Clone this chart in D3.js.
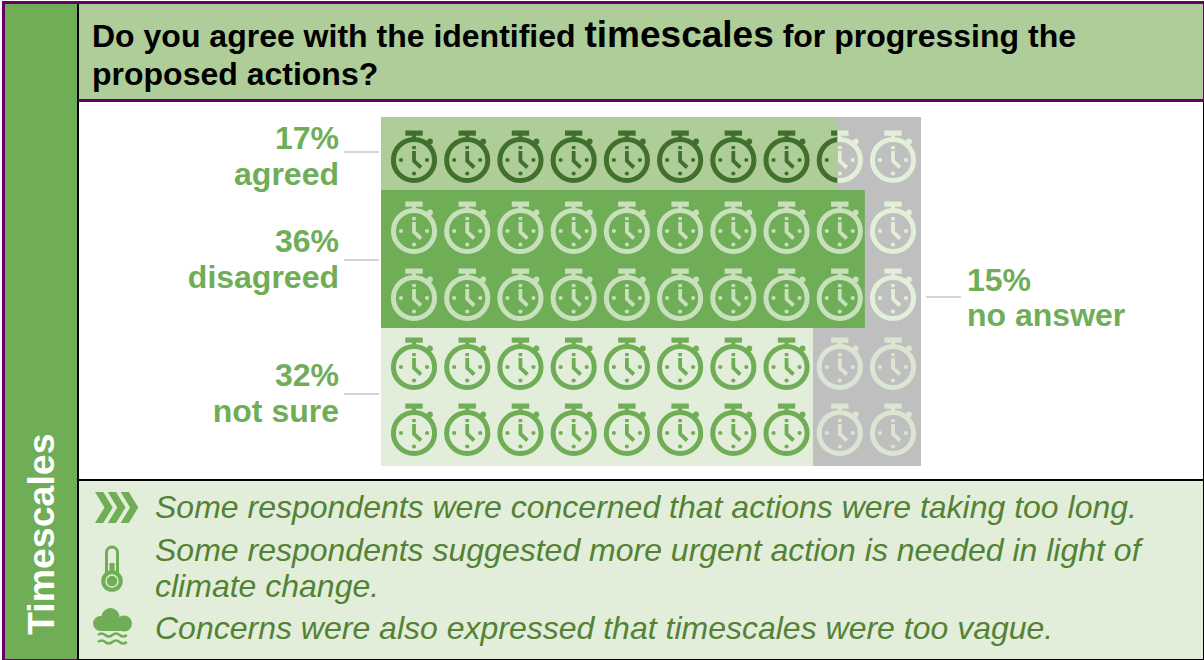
<!DOCTYPE html>
<html>
<head>
<meta charset="utf-8">
<script src="https://cdn.jsdelivr.net/npm/d3@7"></script>
<style>
  html, body { margin: 0; background: #fff; }
  svg { display: block; }
  text { font-family: "Liberation Sans", Arial, sans-serif; }
</style>
</head>
<body>
<div id="chart"></div>
<script>
const categories = ["agreed", "disagreed", "not sure"]
const percents = [17, 36, 32]
const rowsPerCategory = [1, 2, 2]
const filledIcons = [8.45, 8.96, 8]
const noAnswerLabel = "no answer"
const noAnswerPercent = 15
const iconColumns = d3.range(10)
const iconRows = d3.range(5)
const titleParts = ["Do you agree with the identified ", "timescales", " for progressing the"]
const titleLine2 = "proposed actions?"
const sideLabel = "Timescales"
const comments = [
  "Some respondents were concerned that actions were taking too long.",
  "Some respondents suggested more urgent action is needed in light of",
  "climate change.",
  "Concerns were also expressed that timescales were too vague."
]

const purple = "#660066", midGreen = "#70ad57", headGreen = "#aecd98"
const paleGreen = "#e2eeda", darkGreen = "#40702b", textGreen = "#548235"

const svg = d3.select("#chart").append("svg")
  .attr("width", 1204).attr("height", 660)

// panels
function box(x, y, w, h, fill) {
  return svg.append("rect").attr("x", x).attr("y", y).attr("width", w).attr("height", h).attr("fill", fill)
}
box(79, 4, 1125, 95, headGreen)
box(79, 481, 1125, 178, paleGreen)
box(5, 4, 72, 655, midGreen)
box(77, 4, 2, 656, "#000")
box(78, 99, 1126, 3, purple)
box(78, 479, 1126, 2, "#000")
box(2, 1, 1202, 3, purple)
box(2, 1, 3, 659, purple)
box(2, 659, 76, 1, purple)
box(78, 659, 1126, 1, "#000")
box(1203, 4, 1, 95, purple)
box(1203, 102, 1, 557, "#000")

// title
const title = svg.append("text").attr("x", 92).attr("y", 47)
  .attr("font-weight", "bold").attr("font-size", 32).attr("fill", "#000")
title.selectAll("tspan").data(titleParts).join("tspan")
  .attr("font-size", (d, i) => i == 1 ? 37 : 32)
  .style("white-space", "pre")
  .text(d => d)
svg.append("text").attr("x", 92).attr("y", 85)
  .attr("font-weight", "bold").attr("font-size", 32).attr("fill", "#000")
  .text(titleLine2)

svg.append("text")
  .attr("transform", "translate(53.5,635) rotate(-90)")
  .attr("font-weight", "bold").attr("font-size", 37.5).attr("fill", "#fff")
  .text(sideLabel)

// scales
const x = d3.scaleLinear().domain([0, 10]).range([381, 921])
const yEdge = d3.scaleLinear().domain([0, 1, 3, 5]).range([117, 190, 328, 466])
const iconX = d3.scalePoint().domain(iconColumns).range([414, 893])
const iconY = d3.scaleLinear().domain(iconRows).range([160, 231, 298, 367, 433])

// one stopwatch, centred on the dial
function stopwatch(g, color) {
  g.append("circle").attr("r", 20.6).attr("fill", "none").attr("stroke", color).attr("stroke-width", 5)
  g.append("rect").attr("x", -8.7).attr("y", -29.5).attr("width", 17.4).attr("height", 5.2).attr("fill", color)
  g.append("rect").attr("x", -2).attr("y", -25).attr("width", 4).attr("height", 4).attr("fill", color)
  g.append("path").attr("d", "M13,-16L16,-19.5").attr("stroke", color).attr("stroke-width", 3.2)
  g.append("circle").attr("cx", 16).attr("cy", -18.5).attr("r", 2.9).attr("fill", color)
  g.selectAll("circle.dot").data([[-13, 0], [13, 0], [0, 13.5]]).join("circle")
    .attr("class", "dot")
    .attr("cx", d => d[0]).attr("cy", d => d[1]).attr("r", 2.1).attr("fill", color)
  g.append("rect").attr("x", -1.8).attr("y", -14).attr("width", 3.6).attr("height", 3.2).attr("fill", color)
  g.append("path").attr("d", "M0,-9V1L7,7.5").attr("fill", "none").attr("stroke", color).attr("stroke-width", 3.8)
}

function drawIcons(parent, rows, color) {
  rows.forEach(r => {
    iconColumns.forEach(c => {
      stopwatch(parent.append("g").attr("transform", `translate(${iconX(c)},${iconY(r)})`), color)
    })
  })
}

// grey "no answer" band and the pale icons on top of it
svg.append("rect")
  .attr("x", x(0)).attr("width", x(10) - x(0))
  .attr("y", yEdge(0)).attr("height", yEdge(5) - yEdge(0))
  .attr("fill", "#bfbfbf")
drawIcons(svg.append("g"), [0, 1, 2], "#e2efd9")
drawIcons(svg.append("g"), [3, 4], "#dbe6d2")

// one coloured bar per answer, icons clipped to it
const barFills = [headGreen, midGreen, paleGreen]
const iconFills = [darkGreen, "#c9e0bc", midGreen]
const defs = svg.append("defs")
let rowStart = 0
categories.forEach((cat, i) => {
  const rows = d3.range(rowStart, rowStart + rowsPerCategory[i])
  const y0 = yEdge(rowStart), y1 = yEdge(rowStart + rowsPerCategory[i])
  const w = x(filledIcons[i]) - x(0)
  defs.append("clipPath").attr("id", "clip" + i).append("rect")
    .attr("x", x(0)).attr("y", y0).attr("width", w).attr("height", y1 - y0)
  svg.append("rect").attr("x", x(0)).attr("y", y0).attr("width", w).attr("height", y1 - y0)
    .attr("fill", barFills[i])
  drawIcons(svg.append("g").attr("clip-path", `url(#clip${i})`), rows, iconFills[i])
  rowStart += rowsPerCategory[i]
})

// labels
const labelStyle = s => s.attr("font-weight", "bold").attr("font-size", 32).attr("fill", midGreen)
const labelY = [[149, 185], [252, 288], [386, 422]]
const leaderY = [152, 260, 394]
categories.forEach((cat, i) => {
  svg.append("text").attr("x", 339).attr("y", labelY[i][0]).attr("text-anchor", "end")
    .call(labelStyle).text(percents[i] + "%")
  svg.append("text").attr("x", 339).attr("y", labelY[i][1]).attr("text-anchor", "end")
    .call(labelStyle).text(cat)
  svg.append("line").attr("x1", 344).attr("x2", 379).attr("y1", leaderY[i]).attr("y2", leaderY[i])
    .attr("stroke", "#c8c8c8").attr("stroke-width", 1.5)
})
svg.append("line").attr("x1", 926).attr("x2", 961).attr("y1", 297).attr("y2", 297)
  .attr("stroke", "#c8c8c8").attr("stroke-width", 1.5)
svg.append("text").attr("x", 967).attr("y", 291).call(labelStyle).text(noAnswerPercent + "%")
svg.append("text").attr("x", 967).attr("y", 326).call(labelStyle).text(noAnswerLabel)

// comments
const commentY = [518, 561, 597, 639]
svg.selectAll("text.comment").data(comments).join("text")
  .attr("class", "comment")
  .attr("x", 155).attr("y", (d, i) => commentY[i])
  .attr("font-style", "italic").attr("font-size", 32).attr("fill", textGreen)
  .text(d => d)

// chevrons
const chev = svg.append("g").attr("fill", midGreen)
;[0, 1, 2].forEach(i => {
  const o = 95 + i * 12.8
  chev.append("path").attr("d", `M${o},492h8.2l9.5,15.5l-9.5,15.5h-8.2l9.5,-15.5z`)
})

// thermometer
const th = svg.append("g").attr("transform", "translate(112,0)")
th.append("rect").attr("x", -5.5).attr("y", 547).attr("width", 11).attr("height", 32).attr("rx", 5.5)
  .attr("fill", paleGreen).attr("stroke", midGreen).attr("stroke-width", 3)
th.append("rect").attr("x", -2.5).attr("y", 563).attr("width", 5).attr("height", 18).attr("fill", midGreen)
th.append("circle").attr("cy", 581).attr("r", 10.8).attr("fill", midGreen)
th.append("circle").attr("cy", 581).attr("r", 6).attr("fill", midGreen).attr("stroke", paleGreen).attr("stroke-width", 1.3)

// cloud
const cloud = svg.append("g").attr("fill", midGreen)
cloud.append("circle").attr("cx", 110.5).attr("cy", 617).attr("r", 9)
cloud.append("circle").attr("cx", 100.5).attr("cy", 623.5).attr("r", 7.5)
cloud.append("circle").attr("cx", 124).attr("cy", 623.5).attr("r", 8)
cloud.append("rect").attr("x", 100.5).attr("y", 620).attr("width", 23).attr("height", 11)
;[635, 642].forEach(y => {
  svg.append("path")
    .attr("d", `M98,${y}q3.6,-3 7.2,0t7.2,0t7.2,0t7.2,0`)
    .attr("fill", "none").attr("stroke", midGreen).attr("stroke-width", 2.5)
})
</script>
</body>
</html>
